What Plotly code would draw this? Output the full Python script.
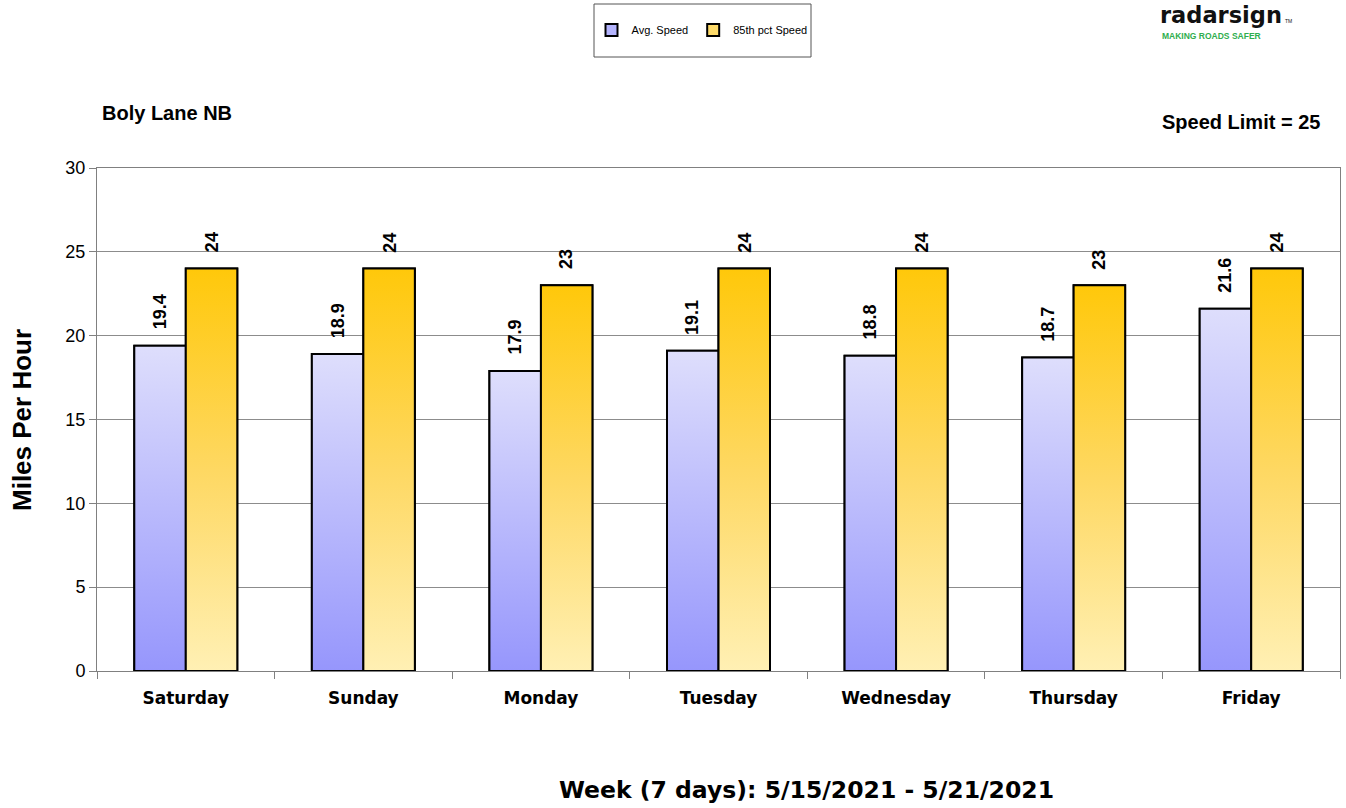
import plotly.graph_objects as go

days = ["Saturday", "Sunday", "Monday", "Tuesday", "Wednesday", "Thursday", "Friday"]
avg_speed = [19.4, 18.9, 17.9, 19.1, 18.8, 18.7, 21.6]
pct85_speed = [24, 24, 23, 24, 24, 23, 24]
y_ticks = [0, 5, 10, 15, 20, 25, 30]

W, H = 1346, 808
L, R, T, B = 97, 6, 168, 137
PW, PH = W - L - R, H - T - B


def px(x):
    return (x - L) / PW


def py(y):
    return (H - B - y) / PH


idx = list(range(len(days)))
bw = 0.29
AVG_SCALE = [[0, "#9696fc"], [1, "#dedefc"]]
P85_SCALE = [[0, "#fff0b4"], [0.5, "#fed862"], [1, "#ffc80a"]]

fig = go.Figure()
series = [
    ("Avg. Speed", avg_speed, -bw, "#b4b4fd", AVG_SCALE),
    ("85th pct Speed", pct85_speed, 0.0, "#fedb6a", P85_SCALE),
]
for name, vals, off, col, scale in series:
    fig.add_trace(go.Bar(
        x=idx, y=vals, width=bw, offset=off, name=name,
        marker=dict(color=col, line=dict(color="black", width=2)),
        hoverinfo="skip",
    ))

# gradient fills on top of bars (derived from the same values)
for name, vals, off, col, scale in series:
    for i, v in zip(idx, vals):
        x0, x1 = i + off, i + off + bw
        fig.add_trace(go.Scatter(
            x=[x0, x0, x1, x1, x0], y=[0, v, v, 0, 0],
            mode="lines", fill="toself",
            fillgradient=dict(type="vertical", colorscale=scale, start=0, stop=v),
            line=dict(color="black", width=2),
            showlegend=False, hoverinfo="skip",
        ))

annotations = []
for name, vals, off, col, scale in series:
    for i, v in zip(idx, vals):
        annotations.append(dict(
            x=i + off + bw / 2, y=v, xref="x", yref="y",
            text=f"{v:g}", textangle=-90, showarrow=False,
            yanchor="bottom", xanchor="center", yshift=14,
            font=dict(family="Liberation Sans", size=18, color="black", weight="bold"),
        ))

annotations += [
    dict(x=px(100), y=py(113), xref="paper", yref="paper", xanchor="left", yanchor="middle",
         text="<b>Boly Lane NB</b>", showarrow=False,
         font=dict(family="Liberation Sans", size=20, color="black")),
    dict(x=px(1322), y=py(122), xref="paper", yref="paper", xanchor="right", yanchor="middle",
         text="<b>Speed Limit = 25</b>", showarrow=False,
         font=dict(family="Liberation Sans", size=20, color="black")),
    dict(x=px(806), y=py(790), xref="paper", yref="paper", xanchor="center", yanchor="middle",
         text="<b>Week (7 days): 5/15/2021 - 5/21/2021</b>", showarrow=False,
         font=dict(family="DejaVu Sans", size=23.5, color="black")),
    dict(x=px(22), y=py(420), xref="paper", yref="paper", xanchor="center", yanchor="middle",
         text="<b>Miles Per Hour</b>", textangle=-90, showarrow=False,
         font=dict(family="Liberation Sans", size=26, color="black")),
    dict(x=px(1158), y=py(0), xref="paper", yref="paper", xanchor="left", yanchor="top",
         text="<b>radarsign</b>", showarrow=False,
         font=dict(family="DejaVu Sans", size=22.5, color="#111111")),
    dict(x=px(1283), y=py(21), xref="paper", yref="paper", xanchor="left", yanchor="middle",
         text="TM", showarrow=False,
         font=dict(family="Liberation Sans", size=5, color="#111111")),
    dict(x=px(1160), y=py(29), xref="paper", yref="paper", xanchor="left", yanchor="top",
         text="<b>MAKING ROADS SAFER</b>", showarrow=False,
         font=dict(family="Liberation Sans", size=8.5, color="#2fae4e")),
]

fig.update_layout(
    width=W, height=H,
    margin=dict(l=L, r=R, t=T, b=B, pad=0),
    paper_bgcolor="white", plot_bgcolor="white",
    barmode="overlay",
    font=dict(family="Liberation Sans", color="black"),
    showlegend=True,
    legend=dict(orientation="h", x=px(702), y=py(30), xanchor="center", yanchor="middle",
                bgcolor="rgba(0,0,0,0)", borderwidth=0,
                font=dict(family="Liberation Sans", size=11, color="black")),
    shapes=[dict(type="rect", xref="paper", yref="paper",
                 x0=px(594), x1=px(811), y0=py(57), y1=py(4),
                 line=dict(color="#555555", width=1), fillcolor="rgba(0,0,0,0)")],
    annotations=annotations,
)

fig.update_xaxes(
    range=[-0.5, len(days) - 0.5], tickvals=idx, ticktext=days,
    ticks="", showgrid=False, zeroline=False,
    showline=True, linecolor="#808080", linewidth=1, mirror=True,
    tickfont=dict(family="DejaVu Sans", size=17, color="black", weight="bold"),
    ticklabelstandoff=12,
    minor=dict(tickvals=[i - 0.5 for i in range(len(days) + 1)], ticks="outside",
               ticklen=7, tickcolor="#808080", showgrid=False),
)
fig.update_yaxes(
    range=[0, 30], tickvals=y_ticks,
    ticks="outside", ticklen=7, tickcolor="#808080",
    showgrid=True, gridcolor="#8c8c8c", gridwidth=1, zeroline=False,
    showline=True, linecolor="#808080", linewidth=1, mirror=True,
    tickfont=dict(family="Liberation Sans", size=18, color="black"),
)

fig.write_html(
    "out.html",
    config={"displayModeBar": False},
    post_script="document.body.style.margin='0';document.body.style.overflow='hidden';",
)
